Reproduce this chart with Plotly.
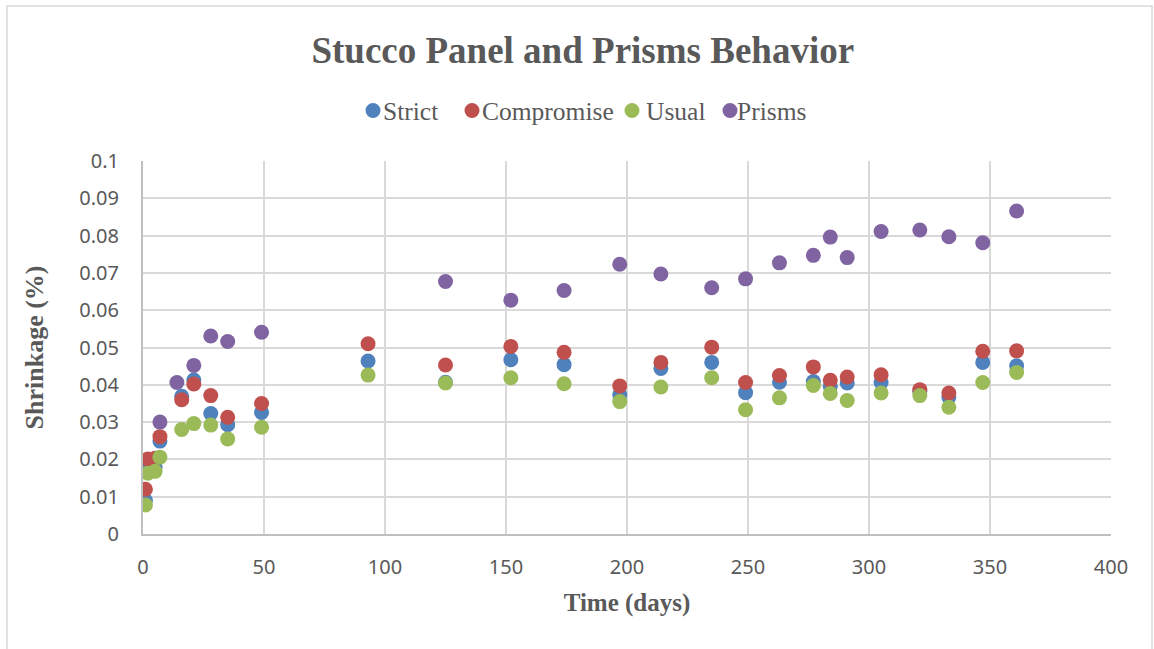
import plotly.graph_objects as go

# Days of measurement
days_panels = [1, 2, 5, 7, 16, 21, 28, 35, 49, 93, 125, 152, 174, 197, 214, 235, 249, 263, 277, 284, 291, 305, 321, 333, 347, 361]
days_prisms = [7, 14, 21, 28, 35, 49, 125, 152, 174, 197, 214, 235, 249, 263, 277, 284, 291, 305, 321, 333, 347, 361]

strict = [0.0090, 0.0175, 0.0178, 0.0249, 0.0369, 0.0413, 0.0323, 0.0293, 0.0326, 0.0464, 0.0407, 0.0467, 0.0454,
          0.0373, 0.0444, 0.0460, 0.0379, 0.0407, 0.0409, 0.0396, 0.0405, 0.0406, 0.0383, 0.0367, 0.0460, 0.0451]
compromise = [0.0120, 0.0201, 0.0203, 0.0261, 0.0360, 0.0402, 0.0371, 0.0313, 0.0350, 0.0510, 0.0453, 0.0503, 0.0487,
              0.0397, 0.0460, 0.0501, 0.0406, 0.0425, 0.0448, 0.0412, 0.0421, 0.0427, 0.0387, 0.0378, 0.0490, 0.0491]
usual = [0.0078, 0.0163, 0.0168, 0.0206, 0.0280, 0.0296, 0.0292, 0.0255, 0.0286, 0.0426, 0.0405, 0.0419, 0.0403,
         0.0355, 0.0394, 0.0419, 0.0333, 0.0365, 0.0398, 0.0377, 0.0358, 0.0378, 0.0371, 0.0340, 0.0406, 0.0433]
prisms = [0.0300, 0.0406, 0.0452, 0.0531, 0.0516, 0.0541, 0.0677, 0.0627, 0.0653, 0.0723, 0.0697, 0.0660, 0.0684,
          0.0727, 0.0747, 0.0796, 0.0741, 0.0811, 0.0815, 0.0797, 0.0781, 0.0866]

x_ticks = [0, 50, 100, 150, 200, 250, 300, 350, 400]
y_ticks = [0, 0.01, 0.02, 0.03, 0.04, 0.05, 0.06, 0.07, 0.08, 0.09, 0.1]
y_tick_labels = ["0", "0.01", "0.02", "0.03", "0.04", "0.05", "0.06", "0.07", "0.08", "0.09", "0.1"]

series_names = ["Strict", "Compromise", "Usual", "Prisms"]
series_colors = ["#4F81BD", "#C0504D", "#9BBB59", "#8064A2"]
series_x = [days_panels, days_panels, days_panels, days_prisms]
series_y = [strict, compromise, usual, prisms]

# plot-area geometry in pixels (for placing the custom legend)
W, H = 1154, 649
L, R, T, B = 143, 43, 161, 115
pw, ph = W - L - R, H - T - B

def px_x(p):
    return (p - L) / pw

def px_y(p):
    return (H - B - p) / ph

fig = go.Figure()
for name, xs, ys, col in zip(series_names, series_x, series_y, series_colors):
    fig.add_trace(go.Scatter(x=xs, y=ys, mode="markers", name=name, showlegend=False,
                             marker=dict(size=15, color=col, line=dict(width=0))))

serif = "Liberation Serif, Times New Roman, serif"
grey = "#595959"

fig.update_layout(
    width=W, height=H,
    paper_bgcolor="white", plot_bgcolor="white",
    margin=dict(l=L, r=R, t=T, b=B),
    title=dict(text="<b>Stucco Panel and Prisms Behavior</b>", x=0.505, xref="container",
               xanchor="center", y=0.923, yanchor="middle",
               font=dict(family=serif, size=37, color=grey)),
    font=dict(family="Noto Sans", color=grey),
)

# custom legend (tight marker/text spacing as in the original)
legend_marker_px = [373, 472, 632, 730]
legend_text_px = [383, 482, 646, 737]
legend_y_px = 110.5
for name, col, mx, tx in zip(series_names, series_colors, legend_marker_px, legend_text_px):
    fig.add_shape(type="circle", xref="paper", yref="paper",
                  xsizemode="pixel", ysizemode="pixel",
                  xanchor=px_x(mx), yanchor=px_y(legend_y_px),
                  x0=-7.5, x1=7.5, y0=-7.5, y1=7.5,
                  fillcolor=col, line=dict(width=0))
    fig.add_annotation(text=name, xref="paper", yref="paper",
                       x=px_x(tx - 2), y=px_y(legend_y_px + 1), xanchor="left", yanchor="middle",
                       showarrow=False, font=dict(family=serif, size=25.5, color=grey))

fig.update_xaxes(
    range=[0, 400], tickvals=x_ticks, ticktext=[str(v) for v in x_ticks],
    showgrid=True, gridcolor="#d9d9d9", gridwidth=2,
    showline=True, linecolor="#bfbfbf", linewidth=2, zeroline=False,
    tickfont=dict(family="Noto Sans", size=20, color=grey),
    ticks="", ticklabelstandoff=14,
    title=dict(text="<b>Time (days)</b>", font=dict(family=serif, size=25, color=grey), standoff=14),
)
fig.update_yaxes(
    range=[0, 0.1], tickvals=y_ticks, ticktext=y_tick_labels,
    showgrid=True, gridcolor="#d9d9d9", gridwidth=2,
    showline=True, linecolor="#bfbfbf", linewidth=2, zeroline=False,
    tickfont=dict(family="Noto Sans", size=20, color=grey),
    ticks="", ticklabelstandoff=18,
    title=dict(text="<b>Shrinkage (%)</b>", font=dict(family=serif, size=26, color=grey), standoff=28),
)

# outer chart frame
fig.add_shape(type="rect", xref="paper", yref="paper",
              x0=px_x(7), x1=px_x(1152), y0=px_y(660), y1=px_y(6),
              line=dict(color="#d9d9d9", width=1.5), fillcolor="rgba(0,0,0,0)", layer="below")

fig.write_html("out.html")
